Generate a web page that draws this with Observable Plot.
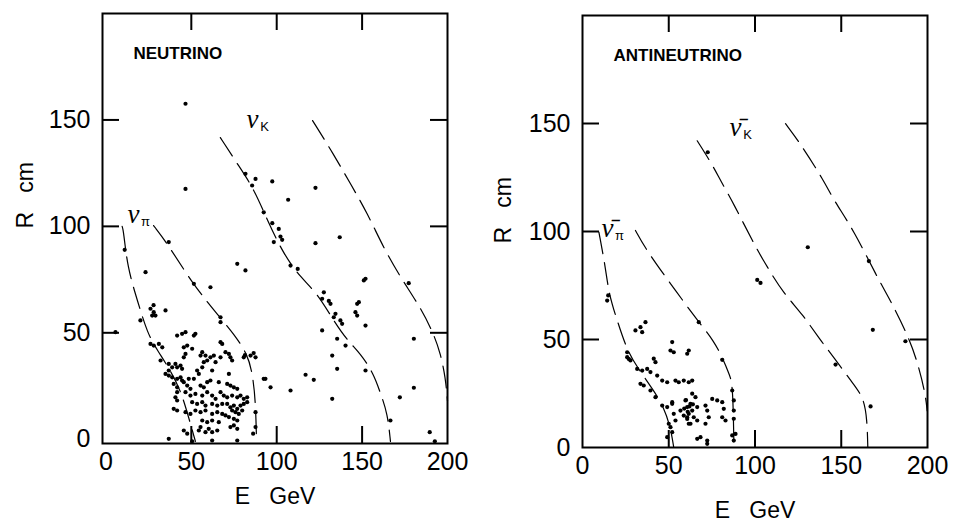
<!DOCTYPE html>
<html>
<head>
<meta charset="utf-8">
<script src="https://cdn.jsdelivr.net/npm/d3@7"></script>
<script src="https://cdn.jsdelivr.net/npm/@observablehq/plot@0.6"></script>
<style>
  html, body { margin: 0; padding: 0; background: #fff; }
  #wrap { display: flex; width: 957px; height: 529px; }
  svg { display: block; }
</style>
</head>
<body>
<div id="wrap"></div>
<script>
// ---------- tick values ----------
const xTickLabels = [0, 50, 100, 150, 200];
const yTickLabels = [0, 50, 100, 150];
const innerTicks = [50, 100, 150];

// ---------- panel titles / axis titles ----------
const panelTitles = [
  {panel: "nu", E: 16.1, R: 181.2, text: "NEUTRINO"},
  {panel: "anti", E: 18.0, R: 181.5, text: "ANTINEUTRINO"}
];
const xAxisTitle = ["E\u00a0\u00a0\u00a0GeV"];
const yAxisTitle = ["R\u00a0\u00a0\u00a0cm"];

// ---------- curve labels ----------
const nuCurveLabels = [
  {E: 16.1, R: 105.6, main: "\u03bd", sub: "\u03c0"},
  {E: 85.8, R: 150.2, main: "\u03bd", sub: "K"}
];
const antiCurveLabels = [
  {E: 14.5, R: 101.4, main: "\u03bd\u0304", sub: "\u03c0"},
  {E: 88.7, R: 148.1, main: "\u03bd\u0304", sub: "K"}
];

// ---------- neutrino boundary curves [E, R] ----------
const nuPiInner = [[9.5,100],[10.3,98],[12.6,80.7],[18.5,65],[24.3,49.7],[30.2,41.7],[37.8,32.3],[43.7,22.9],[47.8,12.1],[52.4,-1]];
const nuPiOuter = [[27.9,100.4],[36,92],[50.7,73],[67,57],[74.7,49.7],[82.9,40],[85.8,30.9],[87.6,18.2],[88.2,-1]];
const nuKInner  = [[67,141.7],[77.6,128.6],[86.4,118],[94.6,102.7],[104,87],[113.9,76],[123.9,68.5],[133.2,55.8],[141.4,46.4],[149,40.3],[156.7,30.9],[160.8,21.5],[164.9,12.1],[166.6,-1]];
const nuKOuter  = [[121,149.7],[133.2,134],[143.2,120],[153.2,106],[162.5,90],[172.5,76],[184.2,61.9],[191.8,49.7],[195.9,40.3],[198.8,29],[200,18]];

// ---------- antineutrino boundary curves [E, R] ----------
const abPiInner = [[9.5,99.7],[13.3,83.5],[15.3,71],[20.1,58.8],[25.9,44.9],[31.7,37.2],[41.3,26.4],[47.1,18.7],[51,9.4],[52.9,0]];
const abPiOuter = [[30.7,100.5],[36.5,92],[51,75.8],[67.4,58],[76.1,49.5],[81.9,40.3],[85,34],[87.1,29.5],[87.7,4.8],[87.8,0]];
const abKInner  = [[66.5,142],[75.2,131],[80,123.6],[87.7,112.8],[99.3,94.3],[107.1,83.5],[116.7,71.2],[127.4,61.9],[138,49.5],[145.7,41.8],[155.4,31],[163.1,23.3],[165,12.5],[165.4,0]];
const abKOuter  = [[117.7,149.9],[126.4,140.6],[139.9,123.6],[145.7,114.4],[157.3,100.5],[170.8,78.8],[178.6,68],[188.2,52.6],[194,40.3],[198.8,24.8],[199.8,17]];

// ---------- neutrino events [E, R] ----------
const nuEvents = [
  [46.6,157.6],[46.6,117.6],[36.8,92.6],[11,89],[23.2,78.5],[76.9,82.4],[81.7,79.3],[51.5,73.0],[61.2,71.4],[67.1,57.3],
  [36.8,0.2],[76.9,-0.6],[5.6,50.3],[26.1,61.3],[28.0,59.7],[27.1,58.1],[29.0,58.1],[27.9,63],[34.9,60.5],[20.2,55.8],
  [81.4,39.5],[86.5,40.5],[67.1,55],
  [81.7,124.7],[87.6,122.3],[85.6,119.2],[97.4,121.1],[122.7,118.1],[106.7,112.5],[92.4,106.6],[97.4,101.5],[101.2,98.8],
  [102.2,95.2],[103.2,93.7],[98.3,92.6],[122.7,92.1],[136.9,94.9],[108.1,81.6],[112.3,80.0],
  [151,74.6],[152,75.4],[177.3,73.3],
  [127.6,69.0],[126.6,66.0],[131.5,63.6],[130.5,65.0],[134.4,58.9],[133.4,57.3],[137.3,55.8],[138.3,54.2],[147.1,63.6],
  [148.1,64.4],[146.1,59.7],[147.1,58.1],[152.0,53.4],[126.6,51.1],[135.4,47.2],[140.3,44.0],[132.5,39.3],[135.4,33.1],
  [116.9,30.3],[121.7,27.9],[132.5,19.0],[108.1,22.9],[96.4,24.4],[92.4,28.4],[180.3,47.2],[180.3,24.2],[172.1,19.7],
  [166.6,8.8],[189.6,3.3],[192.6,-1],[152.0,32.3],
  // dense cluster
  [41.7,48.7],[44.6,49.5],[46.6,50.3],[51.5,48.7],[52.4,49.5],[45.6,43.2],[47.6,44.0],[50.5,42.5],
  [26.1,44.8],[28.0,44.0],[31.0,44.8],[33.0,43.2],[32.0,37.0],[36.8,35.4],[38.8,33.8],[40.7,35.4],[41.7,33.8],
  [45.6,38.5],[46.6,40.1],[55.4,39.3],[56.4,40.9],[58.3,39.3],[61.2,38.5],[63.2,39.3],[67.1,45.6],[68.1,44.8],
  [70.0,40.9],[72.0,40.1],[72.9,38.5],[73.9,37.0],[67.1,38.5],[64.2,36.2],[57.3,36.2],[59.3,37.0],[56.4,33.8],
  [62.2,32.3],[53.4,32.3],[54.4,30.7],[72.0,30.7],[80.7,38.5],[84.7,39.3],[87.6,38.5],[93.4,28.4],
  [34.9,30.7],[36.8,29.9],[38.8,29.1],[41.7,28.4],[43.7,29.1],[44.6,27.6],[45.6,26.8],[48.5,28.4],[51.5,28.4],
  [39.7,26.0],[41.7,24.4],[47.6,25.2],[49.5,23.7],[55.4,25.2],[57.3,24.4],[59.3,26.8],[61.2,27.6],[66.1,26.8],
  [71.0,26.0],[72.9,25.2],[74.9,24.4],[76.9,23.7],[41.7,22.1],[40.7,19.7],[41.7,18.2],[46.6,22.1],[49.5,20.5],
  [52.4,21.3],[56.4,20.5],[59.3,22.1],[62.2,20.5],[64.2,19.0],[67.1,22.1],[69.0,20.5],[71.0,19.7],[73.9,20.5],
  [76.9,19.7],[78.8,20.5],[80.7,19.0],[82.7,19.7],[50.5,17.4],[53.4,16.6],[56.4,17.4],[58.3,15.8],[62.2,16.6],
  [65.2,15.8],[68.1,16.6],[71.0,16.6],[72.9,15.0],[74.9,15.8],[76.9,14.3],[78.8,15.8],[80.7,16.6],[82.7,17.4],
  [73.9,13.5],[75.9,12.7],[77.8,11.9],[79.8,13.5],[39.7,14.3],[41.7,13.5],[46.6,12.7],[49.5,11.9],[52.4,13.5],
  [55.4,12.7],[58.3,13.5],[62.2,11.9],[65.2,12.7],[68.1,11.9],[70.0,11.2],[72.0,10.4],[74.9,9.6],[76.9,8.8],
  [56.4,8.8],[59.3,8.0],[62.2,8.8],[66.1,8.0],[55.4,5.7],[54.4,4.1],[58.3,3.3],[60.2,4.9],[62.2,3.3],[65.2,4.1],
  [72.9,5.7],[74.9,6.5],[76.9,4.9],[45.6,4.1],[47.6,2.6],[50.5,-1],[62.2,-0.6],[87.6,5.7],[87.6,12.7],
  [36.8,32.3],[43.7,34.6],[44.6,33.1],[86.2,2.6]
];

// ---------- antineutrino events [E, R] ----------
const antiEvents = [
  [72.6,136.7],[130.6,92.7],[101.3,77.6],[103.2,76.2],[166.0,86.3],[168.3,54.5],[187.2,49.2],[146.7,38.4],[167.0,19.0],
  [81.0,40.6],[67.4,58.0],[14.9,70.4],[25.9,44.1],
  [30.7,54.2],[33.6,55.7],[34.6,53.4],[36.5,58.0],[52.0,48.8],[51.0,44.9],[52.9,44.1],[61.6,44.9],[60.7,43.4],
  [25.9,41.8],[27.8,40.3],[41.3,41.1],[42.3,39.5],[31.7,36.4],[34.6,35.6],[37.5,36.4],[39.4,34.9],[43.3,33.3],
  [33.6,29.5],[35.5,28.7],[46.2,31.0],[49.1,30.2],[53.9,31.0],[55.8,30.2],[58.7,31.0],[61.6,30.2],[63.6,31.0],
  [39.4,26.4],[42.3,23.3],[46.2,19.4],[49.1,18.7],[52.0,20.2],[52.9,15.6],[53.9,12.5],
  [59.7,21.8],[60.7,18.7],[62.6,20.2],[61.6,15.6],[63.6,17.1],[64.5,14.0],[60.7,14.0],[62.6,11.0],
  [63.6,24.9],[65.5,23.3],[66.5,18.7],[66.5,12.5],[71.3,19.4],[72.3,17.1],[73.2,14.0],[71.3,11.0],
  [75.2,22.5],[78.1,21.8],[81.0,21.0],[81.9,17.9],[81.0,14.0],[82.9,12.5],[50.0,11.0],[51.0,9.4],[52.0,7.1],
  [66.5,4.0],[68.4,4.8],[72.3,3.2],[72.3,1.7],[86.8,26.4],[87.7,21.8],[87.7,17.1],[87.7,13.3],[86.8,5.6],[87.7,3.2],
  [49.1,4.8],[26.8,41.0],[14.3,68.0],[56.8,17.1],[58.7,14.8],[60.7,13.2],[61.6,11.0],[52.0,21.0],[88.7,6.3],
  [60.0,22.0],[62.0,19.0],[61.0,16.5],[64.0,20.0],[59.0,18.0]
];

const toPts = (arr) => arr.map(([E, R]) => ({E, R}));
const toCurves = (obj) => Object.entries(obj).flatMap(([k, arr]) => arr.map(([E, R]) => ({curve: k, E, R})));

function panel(cfg) {
  const fw = cfg.width - cfg.marginLeft - cfg.marginRight;
  const fh = cfg.height - cfg.marginTop - cfg.marginBottom;
  const tick = 17;
  const font = "Liberation Sans, Arial, sans-serif";
  return Plot.plot({
    width: cfg.width,
    height: cfg.height,
    marginLeft: cfg.marginLeft,
    marginRight: cfg.marginRight,
    marginTop: cfg.marginTop,
    marginBottom: cfg.marginBottom,
    style: {fontFamily: font, color: "#000", background: "#fff", overflow: "visible"},
    x: {domain: cfg.xDomain},
    y: {domain: cfg.yDomain},
    marks: [
      Plot.frame({stroke: "#000", strokeWidth: 2}),
      Plot.ruleY(innerTicks, {y: d => d, insetRight: fw - tick, strokeWidth: 2}),
      Plot.ruleY(innerTicks, {y: d => d, insetLeft: fw - tick, strokeWidth: 2}),
      Plot.ruleX(innerTicks, {x: d => d, insetBottom: fh - tick, strokeWidth: 2}),
      Plot.ruleX(innerTicks, {x: d => d, insetTop: fh - tick, strokeWidth: 2}),
      Plot.axisX({ticks: xTickLabels, tickSize: 0, tickPadding: 9, fontSize: 25, label: null, tickFormat: d => String(d)}),
      Plot.axisY({ticks: yTickLabels, tickSize: 0, tickPadding: 12, fontSize: 25, label: null, tickFormat: d => String(d)}),
      Plot.line(cfg.curves, {x: "E", y: "R", z: "curve", curve: "basis", stroke: "#000", strokeWidth: 1.2, strokeDasharray: "22,9"}),
      Plot.dot(cfg.events, {x: "E", y: "R", r: 2.1, fill: "#000", stroke: "none"}),
      Plot.text(cfg.title, {x: "E", y: "R", text: "text", textAnchor: "start", fontSize: 17, fontWeight: "bold", fontFamily: font}),
      Plot.text(cfg.labels, {x: "E", y: "R", text: "main", fontSize: 27, fontStyle: "italic", fontFamily: "Liberation Serif, serif"}),
      Plot.text(cfg.labels, {x: "E", y: "R", text: "sub", fontSize: 13, dx: 12, dy: 7, fontFamily: font}),
      Plot.text(xAxisTitle, {text: d => d, frameAnchor: "bottom", dy: cfg.xTitleDy, fontSize: 23, fontFamily: font}),
      Plot.text(yAxisTitle, {text: d => d, frameAnchor: "left", dx: cfg.yTitleDx, dy: cfg.yTitleDy, rotate: -90, fontSize: 23, fontFamily: font})
    ]
  });
}

const left = panel({
  width: 478, height: 529, marginLeft: 102, marginRight: 31, marginTop: 13, marginBottom: 86,
  xDomain: [-2, 200], yDomain: [-2, 200],
  curves: toCurves({nuPiInner, nuPiOuter, nuKInner, nuKOuter}),
  events: toPts(nuEvents),
  title: panelTitles.filter(d => d.panel === "nu"),
  labels: nuCurveLabels,
  xTitleDy: 60, yTitleDx: -77, yTitleDy: 0
});
const right = panel({
  width: 479, height: 529, marginLeft: 104, marginRight: 30, marginTop: 15, marginBottom: 82,
  xDomain: [0, 200], yDomain: [0, 200],
  curves: toCurves({abPiInner, abPiOuter, abKInner, abKOuter}),
  events: toPts(antiEvents),
  title: panelTitles.filter(d => d.panel === "anti"),
  labels: antiCurveLabels,
  xTitleDy: 70, yTitleDx: -79, yTitleDy: 12
});
const wrap = document.getElementById("wrap");
wrap.appendChild(left);
wrap.appendChild(right);
</script>
</body>
</html>
